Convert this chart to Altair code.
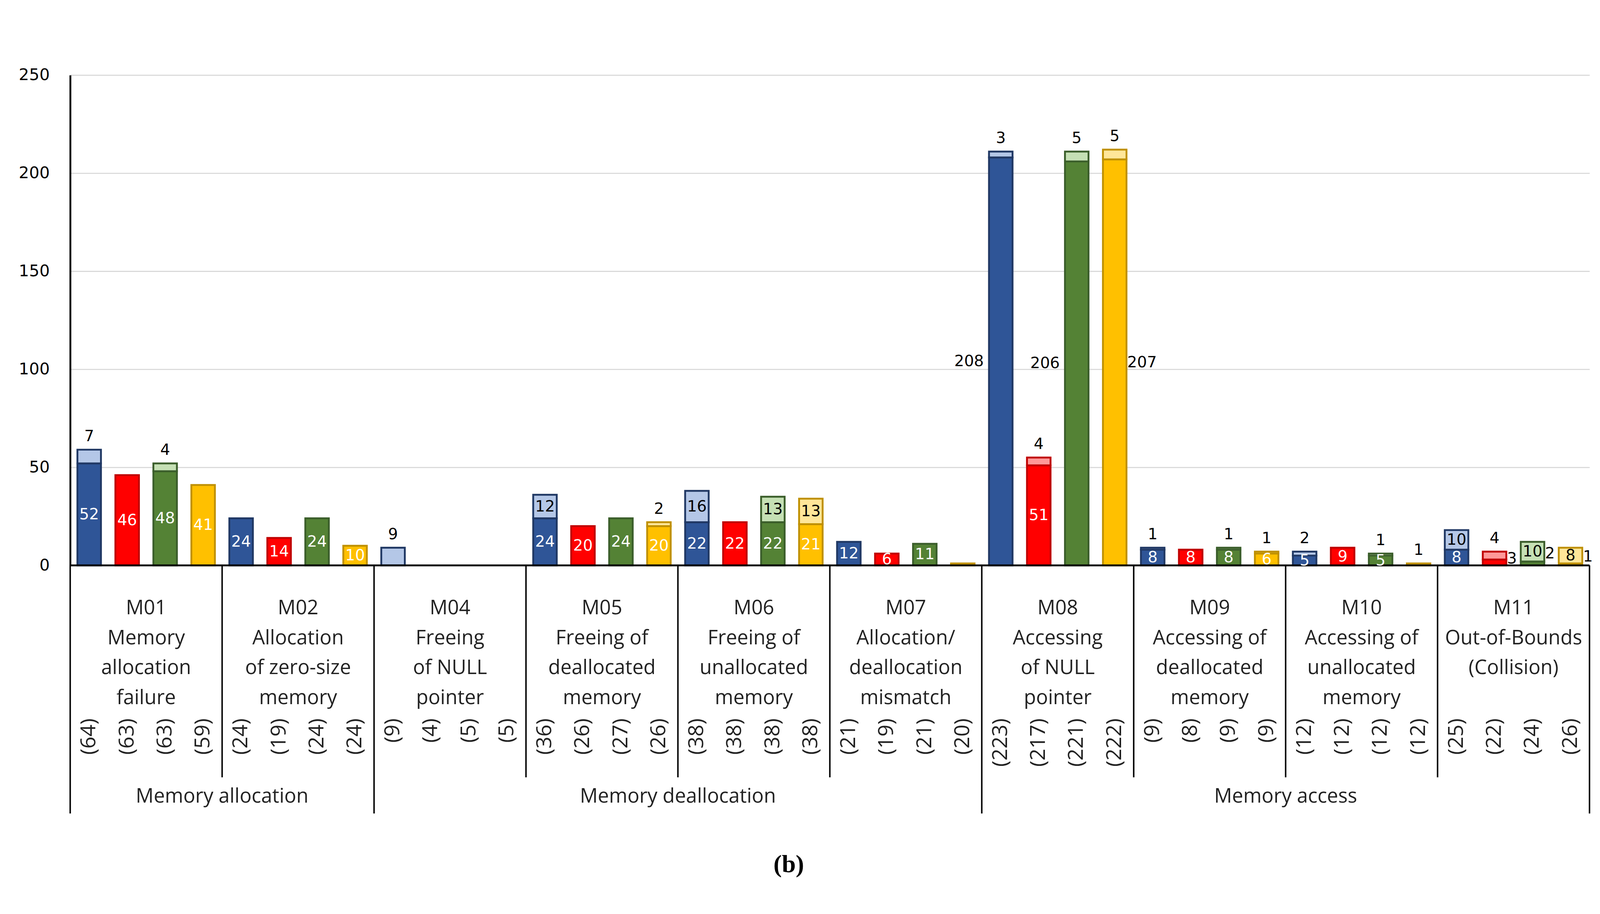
import altair as alt
import pandas as pd

# ---------------- data ----------------
groups = ["M01", "M02", "M04", "M05", "M06", "M07", "M08", "M09", "M10", "M11"]
group_titles = [
    "M01\nMemory\nallocation\nfailure",
    "M02\nAllocation\nof zero-size\nmemory",
    "M04\nFreeing\nof NULL\npointer",
    "M05\nFreeing of\ndeallocated\nmemory",
    "M06\nFreeing of\nunallocated\nmemory",
    "M07\nAllocation/\ndeallocation\nmismatch",
    "M08\nAccessing\nof NULL\npointer",
    "M09\nAccessing of\ndeallocated\nmemory",
    "M10\nAccessing of\nunallocated\nmemory",
    "M11\nOut-of-Bounds\n(Collision)",
]
series = ["S1", "S2", "S3", "S4"]

dark_s1 = [52, 24, 0, 24, 22, 12, 208, 8, 5, 8]
dark_s2 = [46, 14, 0, 20, 22, 6, 51, 8, 9, 3]
dark_s3 = [48, 24, 0, 24, 22, 11, 206, 8, 5, 2]
dark_s4 = [41, 10, 0, 20, 21, 1, 207, 6, 0, 1]

light_s1 = [7, 0, 9, 12, 16, 0, 3, 1, 2, 10]
light_s2 = [0, 0, 0, 0, 0, 0, 4, 0, 0, 4]
light_s3 = [4, 0, 0, 0, 13, 0, 5, 1, 1, 10]
light_s4 = [0, 0, 0, 2, 13, 0, 5, 1, 1, 8]

total_s1 = [64, 24, 9, 36, 38, 21, 223, 9, 12, 25]
total_s2 = [63, 19, 4, 26, 38, 19, 217, 8, 12, 22]
total_s3 = [63, 24, 5, 27, 38, 21, 221, 9, 12, 24]
total_s4 = [59, 24, 5, 26, 38, 20, 222, 9, 12, 26]

super_names = ["Memory allocation", "Memory deallocation", "Memory access"]
super_spans = [["M01", "M02"], ["M04", "M05", "M06", "M07"], ["M08", "M09", "M10", "M11"]]
y_ticks = [0, 50, 100, 150, 200, 250]

# ---------------- styling ----------------
dark_fill = {"S1": "#2F5597", "S2": "#FF0000", "S3": "#548235", "S4": "#FFC000"}
light_fill = {"S1": "#B4C7E7", "S2": "#FF9999", "S3": "#C5E0B4", "S4": "#FFE699"}
edge_col = {"S1": "#203864", "S2": "#C00000", "S3": "#3B5E2B", "S4": "#BF9000"}

W, H = 4123, 1330
NUM_FONT = "DejaVu Sans"
TXT_FONT = "Open Sans"

darks = [dark_s1, dark_s2, dark_s3, dark_s4]
lights = [light_s1, light_s2, light_s3, light_s4]
totals = [total_s1, total_s2, total_s3, total_s4]

rows = []
for g, name in enumerate(groups):
    for s, ser in enumerate(series):
        idx = 4 * g + s
        d = darks[s][g]
        l = lights[s][g]
        rows.append(dict(
            group=name, series=ser, idx=idx,
            x0=idx + 0.19, x1=idx + 0.81, xc=idx + 0.5,
            base0=0, dark=d, light=l, top=d + l,
            dmid=d / 2, lmid=d + l / 2, bmid=(d + l) / 2,
            dlab=str(d), llab=str(l), total=f"({totals[s][g]})",
            dfill=dark_fill[ser], lfill=light_fill[ser], edge=edge_col[ser],
        ))
df = pd.DataFrame(rows)

xs = alt.Scale(domain=[0, 40], nice=False, zero=False)
ys = alt.Scale(domain=[0, 250], nice=False)

# the same y-axis definition is given to every layer so the merged axis stays enabled
yaxis = alt.Axis(values=y_ticks, title=None, orient="left", labelFont=NUM_FONT, labelFontSize=44,
                 labelColor="#000000", labelPadding=56, ticks=False,
                 domainColor="#000000", domainWidth=5, grid=True,
                 gridColor="#D9D9D9", gridWidth=3)


def Y(field):
    return alt.Y(f"{field}:Q", scale=ys, axis=yaxis)


def X(field):
    return alt.X(f"{field}:Q", scale=xs, axis=None)


base = alt.Chart(df)

dark_bars = base.transform_filter("datum.dark > 0").mark_bar(strokeWidth=5).encode(
    x=X("x0"), x2="x1:Q",
    y=Y("base0"), y2="dark:Q",
    fill=alt.Fill("dfill:N", scale=None),
    stroke=alt.Stroke("edge:N", scale=None),
)

light_bars = base.transform_filter("datum.light > 0").mark_bar(strokeWidth=5).encode(
    x=X("x0"), x2="x1:Q",
    y=Y("dark"), y2="top:Q",
    fill=alt.Fill("lfill:N", scale=None),
    stroke=alt.Stroke("edge:N", scale=None),
)


# value labels
def txt(filter_expr, yfield, textfield, **kw):
    return base.transform_filter(filter_expr).mark_text(font=NUM_FONT, fontSize=42, **kw).encode(
        x=X("xc"), y=Y(yfield), text=f"{textfield}:N",
    )


dark_in = txt("datum.dark >= 5 && datum.dark <= 100", "dmid", "dlab",
              color="white", baseline="middle", align="center")
dark_big_left = txt("datum.dark > 100 && datum.series != 'S4'", "dmid", "dlab",
                    color="black", baseline="middle", align="right", dx=-46)
dark_big_right = txt("datum.dark > 100 && datum.series == 'S4'", "dmid", "dlab",
                     color="black", baseline="middle", align="left", dx=34)
dark_small = txt("datum.dark > 0 && datum.dark < 5 && datum.light > 0", "bmid", "dlab",
                 color="black", baseline="middle", align="left", dx=34)
light_in = txt("datum.light >= 8 && datum.dark > 0", "lmid", "llab",
               color="black", baseline="middle", align="center")
light_above = txt("datum.light > 0 && !(datum.light >= 8 && datum.dark > 0)", "top", "llab",
                  color="black", baseline="bottom", align="center", dy=-14)

# baseline
baseline_rule = alt.Chart(pd.DataFrame({"y": [0]})).mark_rule(color="black", strokeWidth=5).encode(
    y=Y("y"), x=alt.value(0), x2=alt.value(W),
)

# separators below the axis
inner_pos = [4, 12, 16, 20, 28, 32, 36]
outer_pos = [0, 8, 24, 40]
inner_rules = alt.Chart(pd.DataFrame({"p": inner_pos})).mark_rule(color="black", strokeWidth=4).encode(
    x=X("p"), y=alt.value(H), y2=alt.value(1905))
outer_rules = alt.Chart(pd.DataFrame({"p": outer_pos})).mark_rule(color="black", strokeWidth=4).encode(
    x=X("p"), y=alt.value(H), y2=alt.value(2003))

# rotated bar totals
totals_txt = base.mark_text(font=TXT_FONT, fontSize=57, angle=270, align="right",
                            baseline="middle", color="#222222").encode(
    x=X("xc"), y=alt.value(1745), text="total:N")

# group titles
gdf = pd.DataFrame({"gx": [4 * i + 2 for i in range(len(groups))], "title": group_titles})
group_txt = alt.Chart(gdf).mark_text(font=TXT_FONT, fontSize=54, lineBreak="\n", lineHeight=81,
                                     baseline="top", align="center", color="#222222").encode(
    x=X("gx"), y=alt.value(1420), text="title:N")

# super-group titles
sx = []
for span in super_spans:
    i0 = groups.index(span[0]) * 4
    i1 = (groups.index(span[-1]) + 1) * 4
    sx.append((i0 + i1) / 2)
sdf = pd.DataFrame({"sx": sx, "name": super_names})
super_txt = alt.Chart(sdf).mark_text(font=TXT_FONT, fontSize=54, baseline="middle",
                                     align="center", color="#222222").encode(
    x=X("sx"), y=alt.value(1958), text="name:N")

# panel tag
tag = alt.Chart(pd.DataFrame({"t": ["(b)"]})).mark_text(font="Liberation Serif", fontSize=68,
                                                        fontWeight="bold", color="black",
                                                        baseline="middle", align="center").encode(
    x=alt.value(1950), y=alt.value(2142), text="t:N")

chart = alt.layer(
    dark_bars, light_bars, baseline_rule, inner_rules, outer_rules,
    dark_in, dark_big_left, dark_big_right, dark_small, light_in, light_above,
    totals_txt, group_txt, super_txt, tag,
).properties(
    width=W, height=H,
    padding={"left": 182, "top": 126, "right": 20, "bottom": 850},
    autosize=alt.AutoSizeParams(type="none"),
).configure_view(strokeWidth=0)

chart.save("out.html", embed_options={"renderer": "svg", "actions": False})
